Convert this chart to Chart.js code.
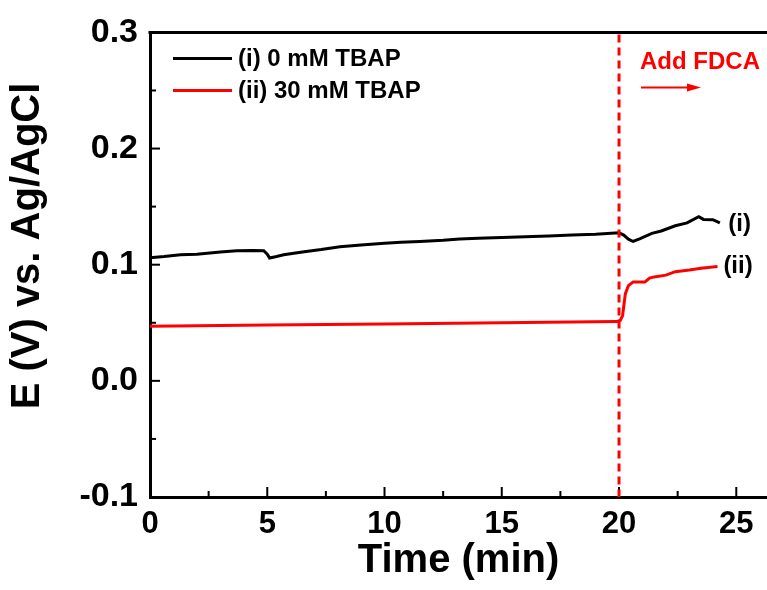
<!DOCTYPE html><html lang="en"><meta charset="utf-8">
<title>E vs. Ag/AgCl over time</title>
<script src="https://cdn.jsdelivr.net/npm/chart.js@4.4.1"></script>

<style>
body{margin:0;background:#fff}
canvas{display:block}
</style>

<body>
<canvas id="chart" width="767" height="590"></canvas>

<script>
// (i) 0 mM TBAP : time (min) / potential (V)
const timeI = [0, 0.6, 1.3, 2, 3, 3.7, 4.4, 4.85, 5.0, 5.1, 5.4, 5.7, 6.5, 7.3, 8.1, 9, 10, 10.7, 11.5, 12.5,
               13.2, 14, 15, 16, 17, 18, 19, 20, 20.2, 20.4, 20.6, 20.9, 21.4, 21.8, 22.4, 22.9, 23.4, 23.6, 24.0, 24.3];
const potI  = [0.106, 0.107, 0.1085, 0.109, 0.111, 0.112, 0.1122, 0.112, 0.109, 0.1057, 0.107, 0.1085, 0.111, 0.113,
               0.1155, 0.117, 0.1185, 0.1194, 0.120, 0.121, 0.1222, 0.1228, 0.1235, 0.124, 0.1248, 0.1255, 0.1262, 0.1275,
               0.1255, 0.122, 0.120, 0.1225, 0.127, 0.129, 0.1335, 0.136, 0.1414, 0.139, 0.1388, 0.136];

// (ii) 30 mM TBAP
const timeII = [0, 5, 10, 15, 19.9, 20.05, 20.15, 20.27, 20.4, 20.6, 21.1, 21.3, 21.5, 22.0, 22.4, 23.0, 23.5, 24.2];
const potII  = [0.047, 0.048, 0.049, 0.050, 0.051, 0.052, 0.056, 0.075, 0.082, 0.085, 0.085, 0.0885, 0.0895,
                0.091, 0.094, 0.0955, 0.097, 0.0985];

const seriesNames = ['(i) 0 mM TBAP', '(ii) 30 mM TBAP'];
const seriesColors = ['#000000', '#ff0000'];
const endLabels = [['(i)', 24.66, 0.1354], ['(ii)', 24.45, 0.0994]];   // text, min, V
const addTime = 20;                                                   // FDCA added
const addLabel = 'Add FDCA';
const yTitle = 'E (V) vs. Ag/AgCl';

const FONT = '"Liberation Sans", Arial, sans-serif';
const pts = (t, v) => t.map((x, i) => ({x, y: v[i]}));

// ticks inside, top frame, legend, annotations
const decor = {
  id: 'decor',
  afterDraw(chart){
    const {ctx, chartArea: a, scales: {x, y}} = chart;
    ctx.save();
    ctx.strokeStyle = '#000';
    ctx.lineWidth = 2;
    const inward = (sc, horiz) => {
      const maj = sc.ticks.map(t => t.value);
      const step = maj[1] - maj[0];
      const all = [];
      maj.forEach(v => { all.push([v, 10]); if (v + step/2 <= sc.max) all.push([v + step/2, 6]); });
      all.forEach(([v, len]) => {
        const p = sc.getPixelForValue(v);
        ctx.beginPath();
        if (horiz){ ctx.moveTo(p, a.bottom); ctx.lineTo(p, a.bottom - len); }
        else { ctx.moveTo(a.left, p); ctx.lineTo(a.left + len, p); }
        ctx.stroke();
      });
    };
    inward(x, true); inward(y, false);

    // top frame
    ctx.lineWidth = 3;
    ctx.beginPath(); ctx.moveTo(a.left - 1.5, a.top); ctx.lineTo(a.right, a.top); ctx.stroke();

    // y title (sits a bit above the plot centre)
    ctx.save();
    ctx.translate(28, 246);
    ctx.rotate(-Math.PI / 2);
    ctx.fillStyle = '#000';
    ctx.font = 'bold 40px ' + FONT;
    ctx.textAlign = 'center';
    ctx.textBaseline = 'middle';
    ctx.fillText(yTitle, 0, 0);
    ctx.restore();

    // dashed marker at FDCA addition
    const xa = x.getPixelForValue(addTime);
    ctx.strokeStyle = '#ff0000';
    ctx.setLineDash([8, 5]);
    ctx.beginPath(); ctx.moveTo(xa, a.top + 2); ctx.lineTo(xa, a.bottom); ctx.stroke();
    ctx.setLineDash([]);

    // "Add FDCA" + arrow
    ctx.fillStyle = '#ff0000';
    ctx.font = 'bold 24px ' + FONT;
    ctx.textBaseline = 'alphabetic';
    ctx.fillText(addLabel, xa + 21, a.top + 37);
    ctx.lineWidth = 2;
    ctx.beginPath(); ctx.moveTo(xa + 22, a.top + 55); ctx.lineTo(xa + 70, a.top + 55); ctx.stroke();
    ctx.beginPath(); ctx.moveTo(xa + 82, a.top + 55); ctx.lineTo(xa + 68, a.top + 51); ctx.lineTo(xa + 68, a.top + 59);
    ctx.closePath(); ctx.fill();

    // legend
    ctx.font = 'bold 24px ' + FONT;
    seriesNames.forEach((n, i) => {
      const yy = a.top + 26 + i * 32;
      ctx.strokeStyle = seriesColors[i];
      ctx.lineWidth = 3;
      ctx.beginPath(); ctx.moveTo(a.left + 23, yy); ctx.lineTo(a.left + 82, yy); ctx.stroke();
      ctx.fillStyle = '#000';
      ctx.textBaseline = 'middle';
      ctx.fillText(n, a.left + 88, yy + 1);
    });

    // end labels
    endLabels.forEach(([txt, tx, ty]) => {
      ctx.fillStyle = '#000';
      ctx.textBaseline = 'middle';
      ctx.fillText(txt, x.getPixelForValue(tx), y.getPixelForValue(ty) + 1);
    });
    ctx.restore();
  }
};

new Chart(document.getElementById('chart'), {
  type: 'line',
  data: {
    datasets: [
      {label: seriesNames[0], data: pts(timeI, potI), borderColor: seriesColors[0]},
      {label: seriesNames[1], data: pts(timeII, potII), borderColor: seriesColors[1]}
    ]
  },
  options: {
    animation: false,
    responsive: false,
    elements: {line: {borderWidth: 3, tension: 0}, point: {radius: 0}},
    layout: {padding: {top: 30, right: 0, bottom: 0, left: 0}},
    plugins: {legend: {display: false}, tooltip: {enabled: false}},
    scales: {
      x: {
        type: 'linear', min: 0, max: 26.31,
        afterFit: s => { s.height = 93; },
        grid: {drawOnChartArea: false, drawTicks: false},
        border: {display: true, color: '#000', width: 3},
        ticks: {stepSize: 5, includeBounds: false, padding: 9, color: '#000',
                font: {family: FONT, size: 31, weight: 'bold'}},
        title: {display: true, text: 'Time (min)', color: '#000', padding: {top: 0, bottom: 9},
                font: {family: FONT, size: 40, weight: 'bold', lineHeight: 1}}
      },
      y: {
        min: -0.1, max: 0.3,
        afterFit: s => { s.width = 150; },
        grid: {drawOnChartArea: false, drawTicks: false},
        border: {display: true, color: '#000', width: 3},
        ticks: {stepSize: 0.1, padding: 12, color: '#000', callback: v => v.toFixed(1),
                font: {family: FONT, size: 34, weight: 'bold'}},
        title: {display: false}
      }
    }
  },
  plugins: [decor]
});
</script>
</body></html>
